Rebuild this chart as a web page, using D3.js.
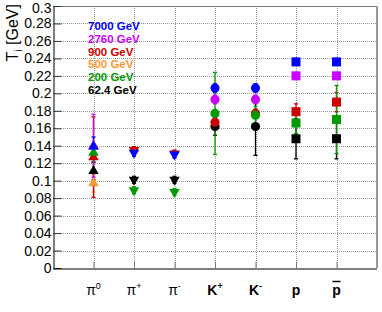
<!DOCTYPE html>
<html><head><meta charset="utf-8">
<script src="https://cdn.jsdelivr.net/npm/d3@7"></script>
<style>body{margin:0;background:#fff}svg{display:block}</style>
</head><body>
<script>
// ---- data ----
const categories = ["pi0","pi+","pi-","K+","K-","p","pbar"];
const markerShapes = ["triUp","triDown","triDown","circle","circle","square","square"];
const energies = ["7000 GeV","2760 GeV","900 GeV","500 GeV","200 GeV","62.4 GeV"];
const energyColors = ["#0000ff","#cc00ff","#cc0000","#ff9933","#009900","#000000"];
const yTicks = [0,0.02,0.04,0.06,0.08,0.1,0.12,0.14,0.16,0.18,0.2,0.22,0.24,0.26,0.28,0.3];
// values per energy, per category (null = no point)
const t7000  = [0.139,0.132,0.130,0.206,0.206,0.236,0.236];
const t2760  = [0.140,null ,null ,0.193,0.193,0.220,0.220];
const t900   = [0.127,0.135,0.131,0.167,0.177,0.179,0.190];
const t500   = [0.097,null ,null ,null ,null ,null ,null ];
const t200   = [0.132,0.089,0.087,0.177,0.175,0.166,0.170];
const t624   = [0.111,0.101,0.101,0.162,0.162,0.148,0.148];
// errors
const e7000  = [0.011,0.004,0.004,0.005,0.005,0.004,0.004];
const e2760  = [0.036,null ,null ,0.005,0.005,0.004,0.004];
const e900   = [0.046,0.004,0.004,0.005,0.005,0.009,0.011];
const e500   = [0.010,null ,null ,null ,null ,null ,null ];
const e200   = [0.010,0.004,0.004,0.047,0.010,0.012,0.039];
const e624   = [0.010,0.004,0.004,0.010,0.033,0.023,0.023];

const series = [
  {name:energies[5], color:energyColors[5], v:t624,  e:e624},
  {name:energies[3], color:energyColors[3], v:t500,  e:e500},
  {name:energies[2], color:energyColors[2], v:t900,  e:e900},
  {name:energies[4], color:energyColors[4], v:t200,  e:e200},
  {name:energies[1], color:energyColors[1], v:t2760, e:e2760},
  {name:energies[0], color:energyColors[0], v:t7000, e:e7000}
];

const W=382,H=312;
const L=53,R=377,T=6,B=268;
const svg=d3.select("body").append("svg").attr("width",W).attr("height",H);
const x=d3.scaleLinear().domain([0,categories.length+1]).range([L,R]);
const y=d3.scaleLinear().domain([0,0.3]).range([B,T]);
const font="'Liberation Sans', Arial, Helvetica, sans-serif";

// grid
const grid=svg.append("g").attr("stroke","#999").attr("stroke-width",1).attr("stroke-dasharray","1,1").attr("shape-rendering","crispEdges");
yTicks.slice(1,-1).forEach(t=>grid.append("line").attr("x1",L).attr("x2",R).attr("y1",Math.round(y(t))+0.5).attr("y2",Math.round(y(t))+0.5));
categories.forEach((c,i)=>grid.append("line").attr("x1",Math.round(x(i+1))+0.5).attr("x2",Math.round(x(i+1))+0.5).attr("y1",T).attr("y2",B));

// frame
svg.append("line").attr("x1",L).attr("x2",R).attr("y1",T+0.5).attr("y2",T+0.5).attr("stroke","#777");
svg.append("line").attr("x1",R).attr("x2",R).attr("y1",T).attr("y2",B).attr("stroke","#999").attr("stroke-width",2);

// y axis
const yAxis=d3.axisLeft(y).tickValues(yTicks).tickSize(-8).tickPadding(10).tickFormat(d=>String(+d.toFixed(2)));
const gy=svg.append("g").attr("transform",`translate(${L+0.5},0)`).call(yAxis);
gy.select(".domain").attr("stroke","#000").attr("d",`M0.5,${T}V${B}`);
gy.selectAll(".tick line").attr("stroke","#333");
gy.selectAll(".tick text").attr("font-family",font).attr("font-size",14).attr("fill","#000").attr("x",-2)
  .attr("dy",d=>d>=0.3?"0.45em":"0.32em");

// x axis
const xAxis=d3.axisBottom(x).tickValues(categories.map((c,i)=>i+1)).tickSize(-7).tickFormat("");
const gx=svg.append("g").attr("transform",`translate(0,${B+0.5})`).call(xAxis);
gx.select(".domain").attr("stroke","#000").attr("d",`M${L},0.5H${R}`);
gx.selectAll(".tick line").attr("stroke","#777");

// x labels
const xlab=[
  {m:"\u03c0",s:"0",b:false},{m:"\u03c0",s:"+",b:false},{m:"\u03c0",s:"-",b:false},
  {m:"K",s:"+",b:true},{m:"K",s:"-",b:true},{m:"p",s:"",b:true},{m:"p",s:"",b:true,bar:true}
];
xlab.forEach((l,i)=>{
  const t=svg.append("text").attr("x",x(i+1)).attr("y",295).attr("text-anchor","middle")
    .attr("font-family",font).attr("font-size",14).attr("font-weight",l.b?"bold":"normal");
  t.append("tspan").text(l.m);
  if(l.s) t.append("tspan").attr("font-size",9).attr("dy",-6).text(l.s);
  if(l.bar) svg.append("line").attr("x1",x(i+1)-4).attr("x2",x(i+1)+4).attr("y1",281.5).attr("y2",281.5).attr("stroke","#000").attr("stroke-width",1.5);
});

// y title
const yt=svg.append("text").attr("transform","translate(18,4) rotate(-90)").attr("text-anchor","end")
  .attr("font-family",font).attr("font-size",16);
yt.append("tspan").text("T");
yt.append("tspan").attr("font-size",10).attr("dy",4).text("i");
yt.append("tspan").attr("dy",-4).text(" [GeV]");

// error bars
series.forEach(s=>{
  s.v.forEach((v,i)=>{
    if(v==null||s.e[i]==null) return;
    const cx=x(i+1), e=s.e[i];
    const g=svg.append("g").attr("stroke",s.color).attr("stroke-width",1.3);
    g.append("line").attr("x1",cx).attr("x2",cx).attr("y1",y(v+e)).attr("y2",y(v-e));
    g.append("line").attr("x1",cx-2).attr("x2",cx+2).attr("y1",y(v+e)).attr("y2",y(v+e));
    g.append("line").attr("x1",cx-2).attr("x2",cx+2).attr("y1",y(v-e)).attr("y2",y(v-e));
  });
});

// markers
const sym={triUp:d3.symbolTriangle,triDown:d3.symbolTriangle,circle:d3.symbolCircle,square:d3.symbolSquare};
const sz={triUp:48,triDown:48,circle:66,square:81};
series.forEach(s=>{
  s.v.forEach((v,i)=>{
    if(v==null) return;
    const shp=markerShapes[i];
    let tr=`translate(${x(i+1)},${y(v)})`;
    if(shp==="triDown") tr+=" rotate(180)";
    svg.append("path").attr("d",d3.symbol().type(sym[shp]).size(sz[shp])()).attr("transform",tr).attr("fill",s.color);
  });
});

// legend
energies.forEach((n,i)=>{
  svg.append("text").attr("x",88).attr("y",30+i*12.8).attr("font-family",font).attr("font-size",11.5)
    .attr("font-weight","bold").attr("fill",energyColors[i]).text(n);
});
</script>
</body></html>
